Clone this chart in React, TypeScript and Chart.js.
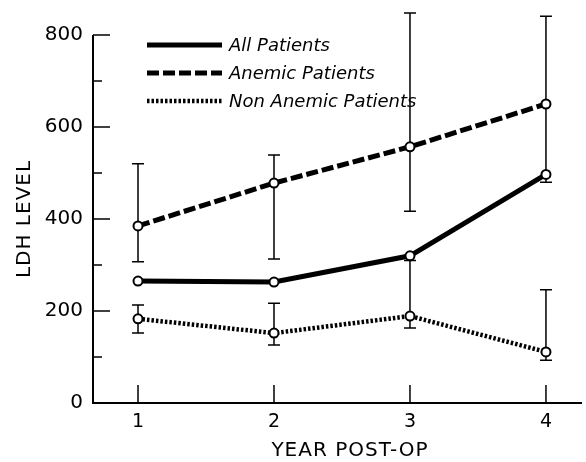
import React, { useEffect, useRef } from "react";
import { Chart, registerables } from "chart.js";

Chart.register(...registerables);

const years = [1, 2, 3, 4];
const xTickLabels = ["1", "2", "3", "4"];
const yTickValues = [0, 200, 400, 600, 800];
const yMinorTickValues = [100, 300, 500, 700];

const seriesNames = ["All Patients", "Anemic Patients", "Non Anemic Patients"];
const allPatients = [265, 263, 320, 497];
const anemicPatients = [385, 478, 557, 650];
const nonAnemicPatients = [183, 152, 189, 111];

// error bar bounds [low, high]
const anemicLow = [307, 313, 417, 480];
const anemicHigh = [520, 539, 848, 841];
const nonAnemicLow = [152, 126, 163, 93];
const nonAnemicHigh = [213, 217, 310, 246];

const xAxisTitle = "YEAR POST-OP";
const yAxisTitle = "LDH LEVEL";

const FONT = "'DejaVu Sans', sans-serif";

const lineStyles = [
  { width: 5, dash: [] as number[] },
  { width: 5, dash: [12, 4] },
  { width: 4.5, dash: [2.5, 2] },
];

export default function App() {
  const ref = useRef<HTMLCanvasElement | null>(null);

  useEffect(() => {
    if (!ref.current) return;
    const decoPlugin = {
      id: "deco",
      afterDatasetsDraw(chart: any) {
        const ctx = chart.ctx;
        const xs = chart.scales.x;
        const ys = chart.scales.y;
        const area = chart.chartArea;
        ctx.save();
        ctx.strokeStyle = "#000";
        ctx.fillStyle = "#000";
        ctx.setLineDash([]);
        // axes
        ctx.lineWidth = 2;
        ctx.beginPath();
        ctx.moveTo(area.left, area.top);
        ctx.lineTo(area.left, area.bottom);
        ctx.lineTo(area.right, area.bottom);
        ctx.stroke();
        // y ticks
        ctx.lineWidth = 1.5;
        yTickValues.forEach((v) => {
          const py = ys.getPixelForValue(v);
          ctx.beginPath();
          ctx.moveTo(area.left, py);
          ctx.lineTo(area.left + 17, py);
          ctx.stroke();
        });
        yMinorTickValues.forEach((v) => {
          const py = ys.getPixelForValue(v);
          ctx.beginPath();
          ctx.moveTo(area.left, py);
          ctx.lineTo(area.left + 9, py);
          ctx.stroke();
        });
        years.forEach((v) => {
          const px = xs.getPixelForValue(v);
          ctx.beginPath();
          ctx.moveTo(px, area.bottom);
          ctx.lineTo(px, area.bottom - 18);
          ctx.stroke();
        });
        // error bars
        const drawErr = (lows: number[], highs: number[]) => {
          years.forEach((yr, i) => {
            const lo = lows[i];
            const hi = highs[i];
            if (lo == null || hi == null) return;
            const px = xs.getPixelForValue(yr);
            const pl = ys.getPixelForValue(lo);
            const ph = ys.getPixelForValue(hi);
            ctx.lineWidth = 1.5;
            ctx.beginPath();
            ctx.moveTo(px, pl);
            ctx.lineTo(px, ph);
            ctx.moveTo(px - 6, pl);
            ctx.lineTo(px + 6, pl);
            ctx.moveTo(px - 6, ph);
            ctx.lineTo(px + 6, ph);
            ctx.stroke();
          });
        };
        drawErr(anemicLow, anemicHigh);
        drawErr(nonAnemicLow, nonAnemicHigh);
        // points on top
        chart.data.datasets.forEach((ds: any, di: number) => {
          const meta = chart.getDatasetMeta(di);
          meta.data.forEach((pt: any) => {
            ctx.beginPath();
            ctx.arc(pt.x, pt.y, 4.5, 0, Math.PI * 2);
            ctx.fillStyle = "#fff";
            ctx.fill();
            ctx.lineWidth = 2;
            ctx.strokeStyle = "#000";
            ctx.stroke();
          });
        });
        // legend
        ctx.fillStyle = "#000";
        ctx.font = `oblique 18px ${FONT}`;
        ctx.textBaseline = "middle";
        ctx.textAlign = "left";
        seriesNames.forEach((name, i) => {
          const y = 45 + i * 28;
          const st = lineStyles[i];
          ctx.lineWidth = st.width;
          ctx.setLineDash(st.dash);
          ctx.lineCap = "butt";
          ctx.beginPath();
          ctx.moveTo(147, y);
          ctx.lineTo(222, y);
          ctx.stroke();
          ctx.setLineDash([]);
          ctx.fillText(name, 229, y + 1);
        });
        // axis titles
        ctx.font = `20px ${FONT}`;
        (ctx as any).letterSpacing = "1px";
        ctx.textAlign = "center";
        ctx.fillText(xAxisTitle, 350, 451);
        ctx.translate(25, (area.top + area.bottom) / 2);
        ctx.rotate(-Math.PI / 2);
        ctx.fillText(yAxisTitle, 0, 0);
        ctx.restore();
      },
    };

    const mk = (vals: number[], i: number) => ({
      label: seriesNames[i],
      data: years.map((x, k) => ({ x, y: vals[k] })),
      borderColor: "#000",
      backgroundColor: "#fff",
      borderWidth: lineStyles[i].width,
      borderDash: lineStyles[i].dash,
      pointRadius: 0,
      tension: 0,
      clip: false,
    });

    const chart = new Chart(ref.current, {
      type: "line",
      data: {
        datasets: [
          mk(allPatients, 0),
          mk(anemicPatients, 1),
          mk(nonAnemicPatients, 2),
        ],
      },
      plugins: [decoPlugin],
      options: {
        animation: false,
        responsive: false,
        devicePixelRatio: 1,
        layout: { padding: { left: 8, right: 4, top: 35, bottom: 0 } },
        plugins: { legend: { display: false }, tooltip: { enabled: false } },
        scales: {
          x: {
            type: "linear",
            min: 0.669,
            max: 4.265,
            grid: { display: false, drawTicks: false },
            border: { display: false },
            afterBuildTicks: (s: any) => {
              s.ticks = years.map((v) => ({ value: v }));
            },
            afterFit: (s: any) => {
              s.height = 59;
            },
            ticks: {
              padding: 8,
              color: "#000",
              font: { family: FONT, size: 19 },
              callback: (v: any) => xTickLabels[years.indexOf(Number(v))] ?? "",
            },
          },
          y: {
            min: 0,
            max: 800,
            grid: { display: false, drawTicks: false },
            border: { display: false },
            afterBuildTicks: (s: any) => {
              s.ticks = yTickValues.map((v) => ({ value: v }));
            },
            afterFit: (s: any) => {
              s.width = 85;
            },
            ticks: {
              padding: 10,
              color: "#000",
              font: { family: FONT, size: 20 },
            },
          },
        },
      },
    } as any);
    return () => chart.destroy();
  }, []);

  return (
    <div style={{ position: "fixed", left: 0, top: 0, width: 586, height: 462, background: "#fff" }}>
      <canvas ref={ref} width={586} height={462} />
    </div>
  );
}
